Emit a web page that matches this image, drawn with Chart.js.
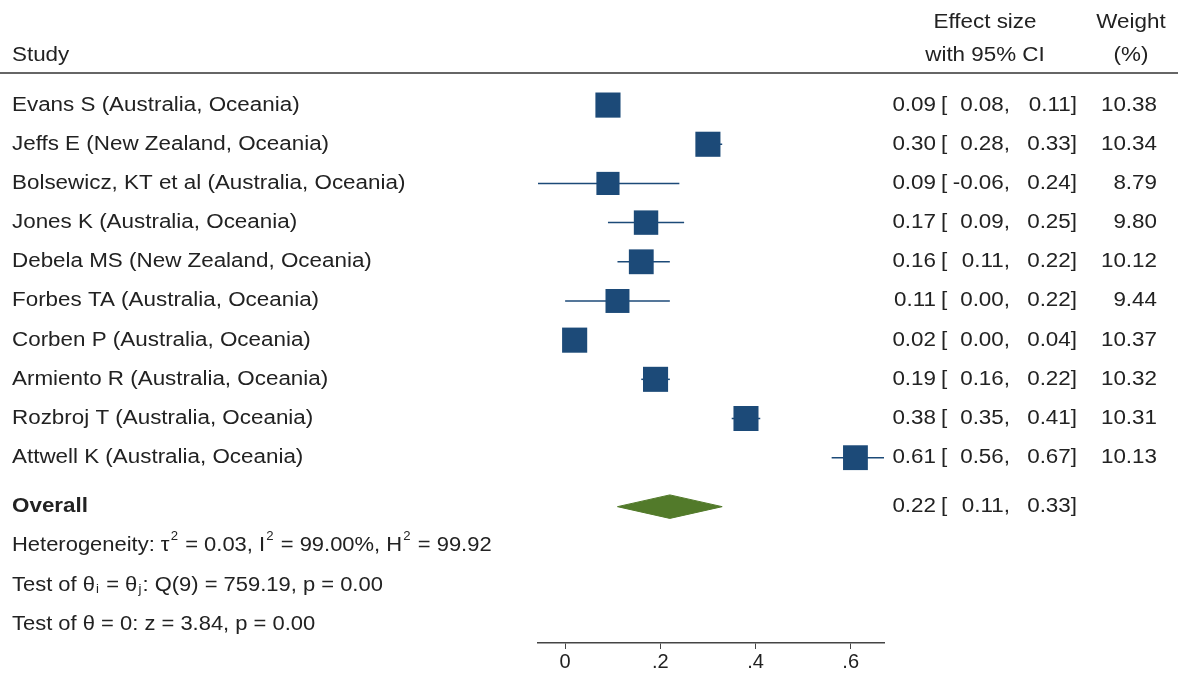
<!DOCTYPE html>
<html>
<head>
<meta charset="utf-8">
<script src="https://cdn.jsdelivr.net/npm/chart.js@4.4.1/dist/chart.umd.min.js"></script>
<style>
  html, body { margin: 0; padding: 0; background: #fff; }
</style>
</head>
<body>
<canvas id="forest" width="1178" height="675"></canvas>
<script>
const studies = [
  "Evans S (Australia, Oceania)",
  "Jeffs E (New Zealand, Oceania)",
  "Bolsewicz, KT et al (Australia, Oceania)",
  "Jones K (Australia, Oceania)",
  "Debela MS (New Zealand, Oceania)",
  "Forbes TA (Australia, Oceania)",
  "Corben P (Australia, Oceania)",
  "Armiento R (Australia, Oceania)",
  "Rozbroj T (Australia, Oceania)",
  "Attwell K (Australia, Oceania)"
];
const effects = [0.09, 0.30, 0.09, 0.17, 0.16, 0.11, 0.02, 0.19, 0.38, 0.61];
const lower = [0.08, 0.28, -0.06, 0.09, 0.11, 0.00, 0.00, 0.16, 0.35, 0.56];
const upper = [0.11, 0.33, 0.24, 0.25, 0.22, 0.22, 0.04, 0.22, 0.41, 0.67];
const weights = [10.38, 10.34, 8.79, 9.80, 10.12, 9.44, 10.37, 10.32, 10.31, 10.13];

const overallEffect = 0.22;
const overallLower = 0.11;
const overallUpper = 0.33;

const xTicks = [0, 0.2, 0.4, 0.6];

// row positions (y value) for the overall line and the stats lines
const overallRow = 10.25;
const statRows = [11.25, 12.25, 13.25];

const NAVY = "#1c4a78";
const GREEN = "#527a2a";
const TEXT = "#222";
const FONT = '"Liberation Sans", Arial, sans-serif';
const SX = 1.12; // the original text is a bit wide

function fmt(v) {
  return v.toFixed(2);
}

// rich text lines: [text, "n" | "sup" | "sub"]
const statLines = [
  [["Heterogeneity: \u03c4", "n"], ["2", "sup"], [" = 0.03, I", "n"], ["2", "sup"],
   [" = 99.00%, H", "n"], ["2", "sup"], [" = 99.92", "n"]],
  [["Test of \u03b8", "n"], ["i", "sub"], [" = \u03b8", "n"], ["j", "sub"],
   [": Q(9) = 759.19, p = 0.00", "n"]],
  [["Test of \u03b8 = 0: z = 3.84, p = 0.00", "n"]]
];

const ciSets = studies.map((s, i) => ({
  label: s,
  data: [{ x: lower[i], y: i }, { x: upper[i], y: i }],
  showLine: true,
  borderColor: NAVY,
  borderWidth: 1.5,
  pointRadius: 0,
  order: 2
}));

const squareSet = {
  label: "Studies",
  data: effects.map((e, i) => ({ x: e, y: i })),
  pointStyle: "rect",
  pointRadius: (ctx) => (7.8 * Math.sqrt(weights[ctx.dataIndex])) / Math.SQRT2,
  backgroundColor: NAVY,
  borderWidth: 0,
  order: 1
};

const diamondSet = {
  label: "Overall",
  data: [
    { x: overallLower, y: overallRow },
    { x: overallEffect, y: overallRow - 0.3 },
    { x: overallUpper, y: overallRow },
    { x: overallEffect, y: overallRow + 0.3 },
    { x: overallLower, y: overallRow }
  ],
  showLine: true,
  fill: "shape",
  backgroundColor: GREEN,
  borderColor: GREEN,
  borderWidth: 1,
  pointRadius: 0,
  order: 1
};

function txt(ctx, t, x, y, align, bold) {
  ctx.save();
  ctx.font = (bold ? "bold " : "") + "20px " + FONT;
  ctx.textAlign = align || "left";
  ctx.translate(x, y);
  ctx.scale(SX, 1);
  ctx.fillText(t, 0, 0);
  ctx.restore();
}

function drawRich(ctx, parts, x, y) {
  ctx.save();
  ctx.translate(x, y);
  ctx.scale(SX * 0.98, 1);
  ctx.textAlign = "left";
  let cx = 0;
  parts.forEach(([t, kind]) => {
    if (kind === "n") {
      ctx.font = "20px " + FONT;
      ctx.fillText(t, cx, 0);
    } else {
      ctx.font = "12px " + FONT;
      ctx.fillText(t, cx + 1, kind === "sup" ? -9 : 5);
    }
    cx += ctx.measureText(t).width + (kind === "n" ? 0 : 2);
  });
  ctx.restore();
}

const textPlugin = {
  id: "forestText",
  afterDraw(chart) {
    const ctx = chart.ctx;
    const ys = chart.scales.y;
    ctx.save();
    ctx.fillStyle = TEXT;
    ctx.textBaseline = "middle";

    // header
    txt(ctx, "Study", 12, 55);
    txt(ctx, "Effect size", 985, 22, "center");
    txt(ctx, "with 95% CI", 985, 55, "center");
    txt(ctx, "Weight", 1131, 22, "center");
    txt(ctx, "(%)", 1131, 55, "center");

    ctx.strokeStyle = "#333";
    ctx.lineWidth = 1.5;
    ctx.beginPath();
    ctx.moveTo(0, 73);
    ctx.lineTo(1178, 73);
    ctx.stroke();

    // study rows
    studies.forEach((s, i) => {
      const y = ys.getPixelForValue(i);
      txt(ctx, s, 12, y);
      txt(ctx, fmt(effects[i]), 936, y, "right");
      txt(ctx, "[", 941, y);
      txt(ctx, fmt(lower[i]) + ",", 1010, y, "right");
      txt(ctx, fmt(upper[i]) + "]", 1077, y, "right");
      txt(ctx, fmt(weights[i]), 1157, y, "right");
    });

    // overall
    const yo = ys.getPixelForValue(overallRow);
    txt(ctx, "Overall", 12, yo, "left", true);
    txt(ctx, fmt(overallEffect), 936, yo, "right");
    txt(ctx, "[", 941, yo);
    txt(ctx, fmt(overallLower) + ",", 1010, yo, "right");
    txt(ctx, fmt(overallUpper) + "]", 1077, yo, "right");

    // heterogeneity and tests
    statLines.forEach((parts, k) => {
      drawRich(ctx, parts, 12, ys.getPixelForValue(statRows[k]));
    });
    ctx.restore();
  }
};

new Chart(document.getElementById("forest"), {
  type: "scatter",
  data: { datasets: [...ciSets, squareSet, diamondSet] },
  options: {
    responsive: false,
    animation: false,
    layout: { padding: { left: 538, right: 294, top: 80, bottom: 0 } },
    plugins: {
      legend: { display: false },
      tooltip: { enabled: false }
    },
    scales: {
      x: {
        type: "linear",
        min: -0.057,
        max: 0.67,
        afterBuildTicks: (axis) => {
          axis.ticks = xTicks.map((v) => ({ value: v }));
        },
        grid: {
          display: true,
          drawOnChartArea: false,
          drawTicks: true,
          tickLength: 6,
          color: "#444"
        },
        border: { display: true, color: "#444", width: 1.5 },
        ticks: {
          color: TEXT,
          font: { size: 20, family: FONT, lineHeight: 1.1 },
          padding: 2,
          maxRotation: 0,
          callback: (v) => (v === 0 ? "0" : fmt(v).replace(/^0/, "").replace(/0$/, ""))
        }
      },
      y: {
        type: "linear",
        display: false,
        reverse: true,
        min: -0.64,
        max: 13.73
      }
    }
  },
  plugins: [textPlugin]
});
</script>
</body>
</html>
